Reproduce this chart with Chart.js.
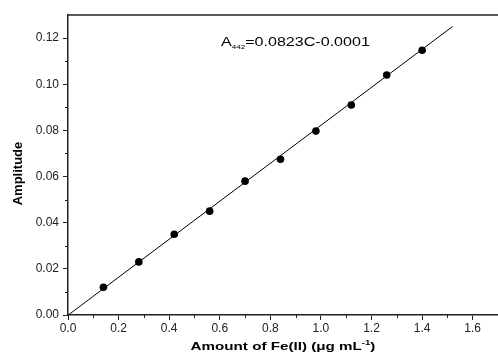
<!DOCTYPE html>
<html>
<head>
<meta charset="utf-8">
<script src="https://cdn.jsdelivr.net/npm/chart.js@4"></script>
<style>
  body { margin: 0; overflow: hidden; background: #fff; }
  #wrap { width: 502px; height: 360px; }
</style>
</head>
<body>
<div id="wrap"><canvas id="myChart" width="502" height="360"></canvas></div>
<script>
// measured points
const conc = [0.14, 0.28, 0.42, 0.56, 0.70, 0.84, 0.98, 1.12, 1.26, 1.40];
const amplitude = [0.012, 0.023, 0.035, 0.045, 0.058, 0.0675, 0.0797, 0.091, 0.104, 0.1147];
// fitted line A = 0.0823C - 0.0001
const fitX = [0, 1.52];
const fitY = [-0.0001, 0.1250];
const xTicks = [0, 0.2, 0.4, 0.6, 0.8, 1.0, 1.2, 1.4, 1.6];
const yTicks = [0, 0.02, 0.04, 0.06, 0.08, 0.10, 0.12];
const xMinor = [0.1, 0.3, 0.5, 0.7, 0.9, 1.1, 1.3, 1.5];
const yMinor = [0.01, 0.03, 0.05, 0.07, 0.09, 0.11];

const font = "'Liberation Sans', Arial, sans-serif";
const axisColor = "#222";

// draw pieces of text one after another, widened by `stretch`
function drawRuns(ctx, runs, x, y, align, stretch) {
    let total = 0;
    runs.forEach((r) => { ctx.font = r.font; total += ctx.measureText(r.text).width; });
    ctx.save();
    ctx.translate(x, y);
    ctx.scale(stretch, 1);
    let cx = align === "center" ? -total / 2 : 0;
    runs.forEach((r) => {
        ctx.font = r.font;
        ctx.fillText(r.text, cx, r.dy || 0);
        cx += ctx.measureText(r.text).width;
    });
    ctx.restore();
}

// frame top line, minor ticks, equation label, axis titles
const extras = {
    id: "extras",
    afterDraw(chart) {
        const ctx = chart.ctx;
        const area = chart.chartArea;
        const xs = chart.scales.x, ys = chart.scales.y;
        ctx.save();
        ctx.strokeStyle = axisColor;
        ctx.lineWidth = 1.5;
        ctx.beginPath();
        ctx.moveTo(area.left, area.top);
        ctx.lineTo(area.right + 2, area.top);
        ctx.stroke();
        ctx.lineWidth = 1;
        ctx.beginPath();
        xMinor.forEach((v) => {
            const px = Math.round(xs.getPixelForValue(v)) + 0.5;
            ctx.moveTo(px, area.bottom);
            ctx.lineTo(px, area.bottom + 3);
        });
        yMinor.forEach((v) => {
            const py = Math.round(ys.getPixelForValue(v)) + 0.5;
            ctx.moveTo(area.left, py);
            ctx.lineTo(area.left - 3, py);
        });
        ctx.stroke();

        ctx.fillStyle = "#000";
        ctx.textBaseline = "alphabetic";
        ctx.textAlign = "left";

        // equation
        drawRuns(ctx, [
            { text: "A", font: "12px " + font },
            { text: "442", font: "6px " + font, dy: 3 },
            { text: "=0.0823C-0.0001", font: "12px " + font },
        ], xs.getPixelForValue(0.605), ys.getPixelForValue(0.1165), "left", 1.34);

        // x axis title
        const bold = "bold 11px " + font;
        drawRuns(ctx, [
            { text: "Amount of Fe(II) (\u03bcg mL", font: bold },
            { text: "-1", font: "bold 7px " + font, dy: -5 },
            { text: ")", font: bold },
        ], (area.left + area.right) / 2, 349.5, "center", 1.38);

        // y axis title
        ctx.save();
        ctx.translate(18, 173.5);
        ctx.rotate(-Math.PI / 2);
        ctx.textAlign = "center";
        ctx.textBaseline = "middle";
        ctx.font = "bold 13px " + font;
        ctx.fillText("Amplitude", 0, 0);
        ctx.restore();
        ctx.restore();
    },
};

const ctx = document.getElementById("myChart");
new Chart(ctx, {
    type: "scatter",
    data: {
        datasets: [
            {
                label: "fit",
                data: fitX.map((x, i) => ({ x: x, y: fitY[i] })),
                showLine: true,
                borderColor: "#000",
                borderWidth: 1,
                pointRadius: 0,
                clip: false,
            },
            {
                label: "Amplitude",
                data: conc.map((x, i) => ({ x: x, y: amplitude[i] })),
                backgroundColor: "#000",
                borderColor: "#000",
                pointRadius: 3.8,
                pointBorderWidth: 0,
            },
        ],
    },
    options: {
        responsive: false,
        animation: false,
        layout: { padding: { top: 15, right: 0, left: 0, bottom: 0 } },
        plugins: {
            legend: { display: false },
            tooltip: { enabled: false },
        },
        scales: {
            x: {
                type: "linear",
                min: 0,
                max: 1.7,
                afterBuildTicks: (s) => { s.ticks = xTicks.map((v) => ({ value: v })); },
                afterFit: (s) => { s.height = 45; },
                grid: { drawOnChartArea: false, tickLength: 5, color: axisColor, tickWidth: 1 },
                border: { color: axisColor, width: 1.5 },
                ticks: {
                    color: "#222",
                    font: { family: font, size: 12 },
                    padding: 1,
                    maxRotation: 0,
                    callback: (v) => Number(v).toFixed(1),
                },
            },
            y: {
                type: "linear",
                min: 0,
                max: 0.13,
                afterBuildTicks: (s) => { s.ticks = yTicks.map((v) => ({ value: v })); },
                afterFit: (s) => { s.width = 68; },
                grid: { drawOnChartArea: false, tickLength: 5, color: axisColor, tickWidth: 1 },
                border: { color: axisColor, width: 1.5 },
                ticks: {
                    color: "#222",
                    font: { family: font, size: 12 },
                    padding: 4,
                    callback: (v) => Number(v).toFixed(2),
                },
            },
        },
    },
    plugins: [extras],
});
</script>
</body>
</html>
